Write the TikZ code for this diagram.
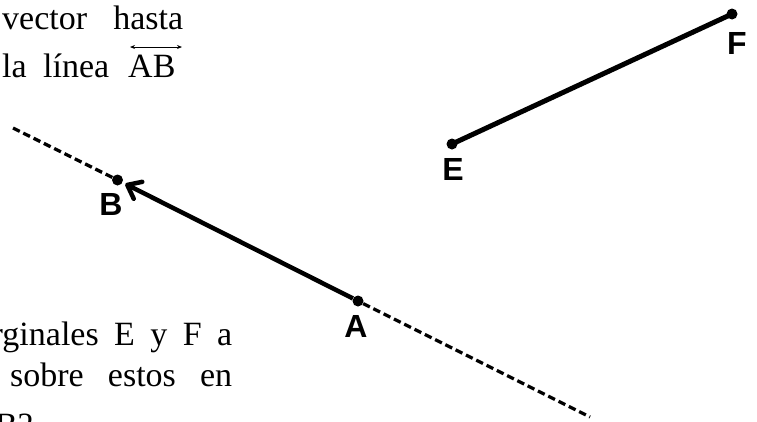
\documentclass[tikz,border=0pt]{standalone}
\usepackage{fontspec}
\setmainfont{Liberation Serif}
\newfontfamily\labelfont{Liberation Sans}
\usetikzlibrary{arrows.meta,calc}
\begin{document}
\begin{tikzpicture}[x=1pt,y=-1pt,
  txt/.style={inner sep=0pt,anchor=base west,font=\fontsize{34}{40}\selectfont},
  lbl/.style={inner sep=0pt,font=\labelfont\bfseries\fontsize{32}{32}\selectfont},
  dot/.style={circle,fill=black,inner sep=0pt,minimum size=11pt},
  dashline/.style={line width=3.3pt,dash pattern=on 7.5pt off 4pt},
  vec/.style={line width=4.5pt,shorten >=3pt,-{Straight Barb[length=12pt,width=19pt,round]}},
  seg/.style={line width=5pt},
  overarrow/.style={line width=1pt,{Stealth[length=5pt,width=4pt]}-{Stealth[length=5pt,width=4pt]}}]
\useasboundingbox (0,0) rectangle (757,421);
% text fragments
\node[txt] (t1) at (2,29) {\makebox[181pt][s]{vector hasta}};
\node[txt] (t2) at (2,77) {\makebox[107pt][s]{la línea}};
\node[txt] (ab) at (128,77) {AB};
\coordinate (abl) at (130,47);
\coordinate (abr) at (182,47);
\draw[overarrow] (abl) -- (abr);
\node[txt] (t3) at (-50,345) {\makebox[282pt][s]{marginales E y F a}};
\node[txt] (t4) at (10,386) {\makebox[222pt][s]{sobre estos en}};
\node[txt] (t5) at (-5,436) {B?};
% points
\coordinate (L1) at (13,128);
\coordinate (L2) at (590,417);
\node[dot] (B) at (117.5,180) {};
\node[dot] (A) at (358,301) {};
\node[dot] (E) at (452,144) {};
\node[dot] (F) at (732,14) {};
% lines
\draw[dashline] (L1) -- (B);
\draw[dashline] (A) -- (L2);
\draw[vec] (A) -- (B);
\draw[seg] (E.center) -- (F.center);
% labels
\node[lbl] (lA) at (356,326) {A};
\node[lbl] (lB) at (111,204.5) {B};
\node[lbl] (lE) at (453,169.5) {E};
\node[lbl] (lF) at (737,43.5) {F};
\end{tikzpicture}
\end{document}
